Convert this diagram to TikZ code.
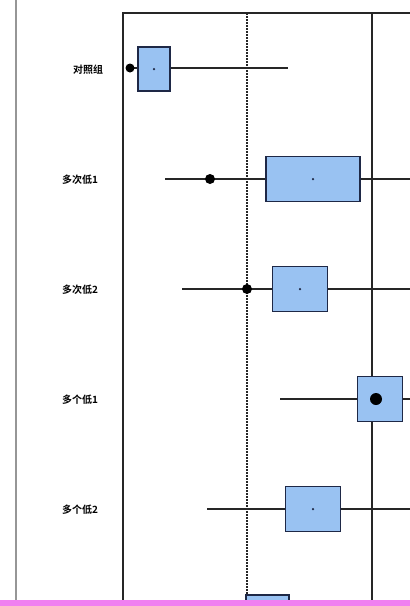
\documentclass[tikz,border=0pt]{standalone}
\usepackage{fontspec}
\newfontfamily\cjk{Noto Sans CJK SC}[BoldFont={Noto Sans CJK SC Bold}]
\definecolor{boxfill}{RGB}{153,194,242}
\definecolor{boxedge}{RGB}{30,40,70}
\definecolor{pinkband}{RGB}{240,128,240}
\definecolor{edgegray}{RGB}{150,150,150}
\tikzset{
  ivbox/.style={draw=boxedge, line width=1.8pt, fill=boxfill, inner sep=0pt},
  whisk/.style={draw=black!85, line width=1.5pt},
  ptdot/.style={circle, fill=black, inner sep=0pt, minimum size=10pt},
  cdot/.style={circle, fill=boxedge, inner sep=0pt, minimum size=2.5pt},
  rowlab/.style={font=\cjk\bfseries\fontsize{10}{10}\selectfont, inner sep=0pt},
  gridline/.style={draw=black!85, line width=1.6pt},
}
\begin{document}
\begin{tikzpicture}[x=1pt,y=-1pt]
\useasboundingbox (0,0) rectangle (410,606);
\fill[white] (0,0) rectangle (410,606);
% left page edge
\draw[edgegray, line width=1.4pt] (16,0) -- (16,600);
% frame
\coordinate (tl) at (123,13);
\coordinate (tr) at (410,13);
\coordinate (bl) at (123,600);
\coordinate (dt) at (247,13);
\coordinate (db) at (247,600);
\coordinate (st) at (372,13);
\coordinate (sb) at (372,600);
\draw[gridline] (bl) -- (tl) -- (tr);
\draw[gridline, dash pattern=on 1.6pt off 1.4pt, line width=1.8pt] (dt) -- (db);
\draw[gridline] (st) -- (sb);
% bottom partial box
\node[ivbox, minimum width=43pt, minimum height=14pt, anchor=north west] (b6) at (245,594) {};
% row 1
\coordinate (w1a) at (130,68); \coordinate (w1b) at (288,68);
\draw[whisk] (w1a) -- (w1b);
\node[ivbox, minimum width=32pt, minimum height=44pt] (b1) at (154,69) {};
\node[cdot] at (b1.center) {};
\node[ptdot, minimum size=9pt] (p1) at (w1a) {};
\node[rowlab] (l1) at (88,70) {对照组};
% row 2
\coordinate (w2a) at (165,179); \coordinate (w2b) at (410,179);
\draw[whisk] (w2a) -- (w2b);
\node[ivbox, minimum width=94pt, minimum height=45pt] (b2) at (313,179) {};
\node[cdot] at (b2.center) {};
\node[ptdot] (p2) at (210,179) {};
\node[rowlab] (l2) at (80,180) {多次低1};
% row 3
\coordinate (w3a) at (182,289); \coordinate (w3b) at (410,289);
\draw[whisk] (w3a) -- (w3b);
\node[ivbox, minimum width=55pt, minimum height=45pt] (b3) at (300,289) {};
\node[cdot] at (b3.center) {};
\node[ptdot] (p3) at (247,289) {};
\node[rowlab] (l3) at (80,290) {多次低2};
% row 4
\coordinate (w4a) at (280,399); \coordinate (w4b) at (410,399);
\draw[whisk] (w4a) -- (w4b);
\node[ivbox, minimum width=45pt, minimum height=45pt] (b4) at (380,399) {};
\node[ptdot, minimum size=12pt] (p4) at (376,399) {};
\node[rowlab] (l4) at (80,400) {多个低1};
% row 5
\coordinate (w5a) at (207,509); \coordinate (w5b) at (410,509);
\draw[whisk] (w5a) -- (w5b);
\node[ivbox, minimum width=55pt, minimum height=45pt] (b5) at (313,509) {};
\node[cdot] at (b5.center) {};
\node[rowlab] (l5) at (80,510) {多个低2};
% pink band
\fill[pinkband] (0,600) rectangle (410,606);
\end{tikzpicture}
\end{document}
